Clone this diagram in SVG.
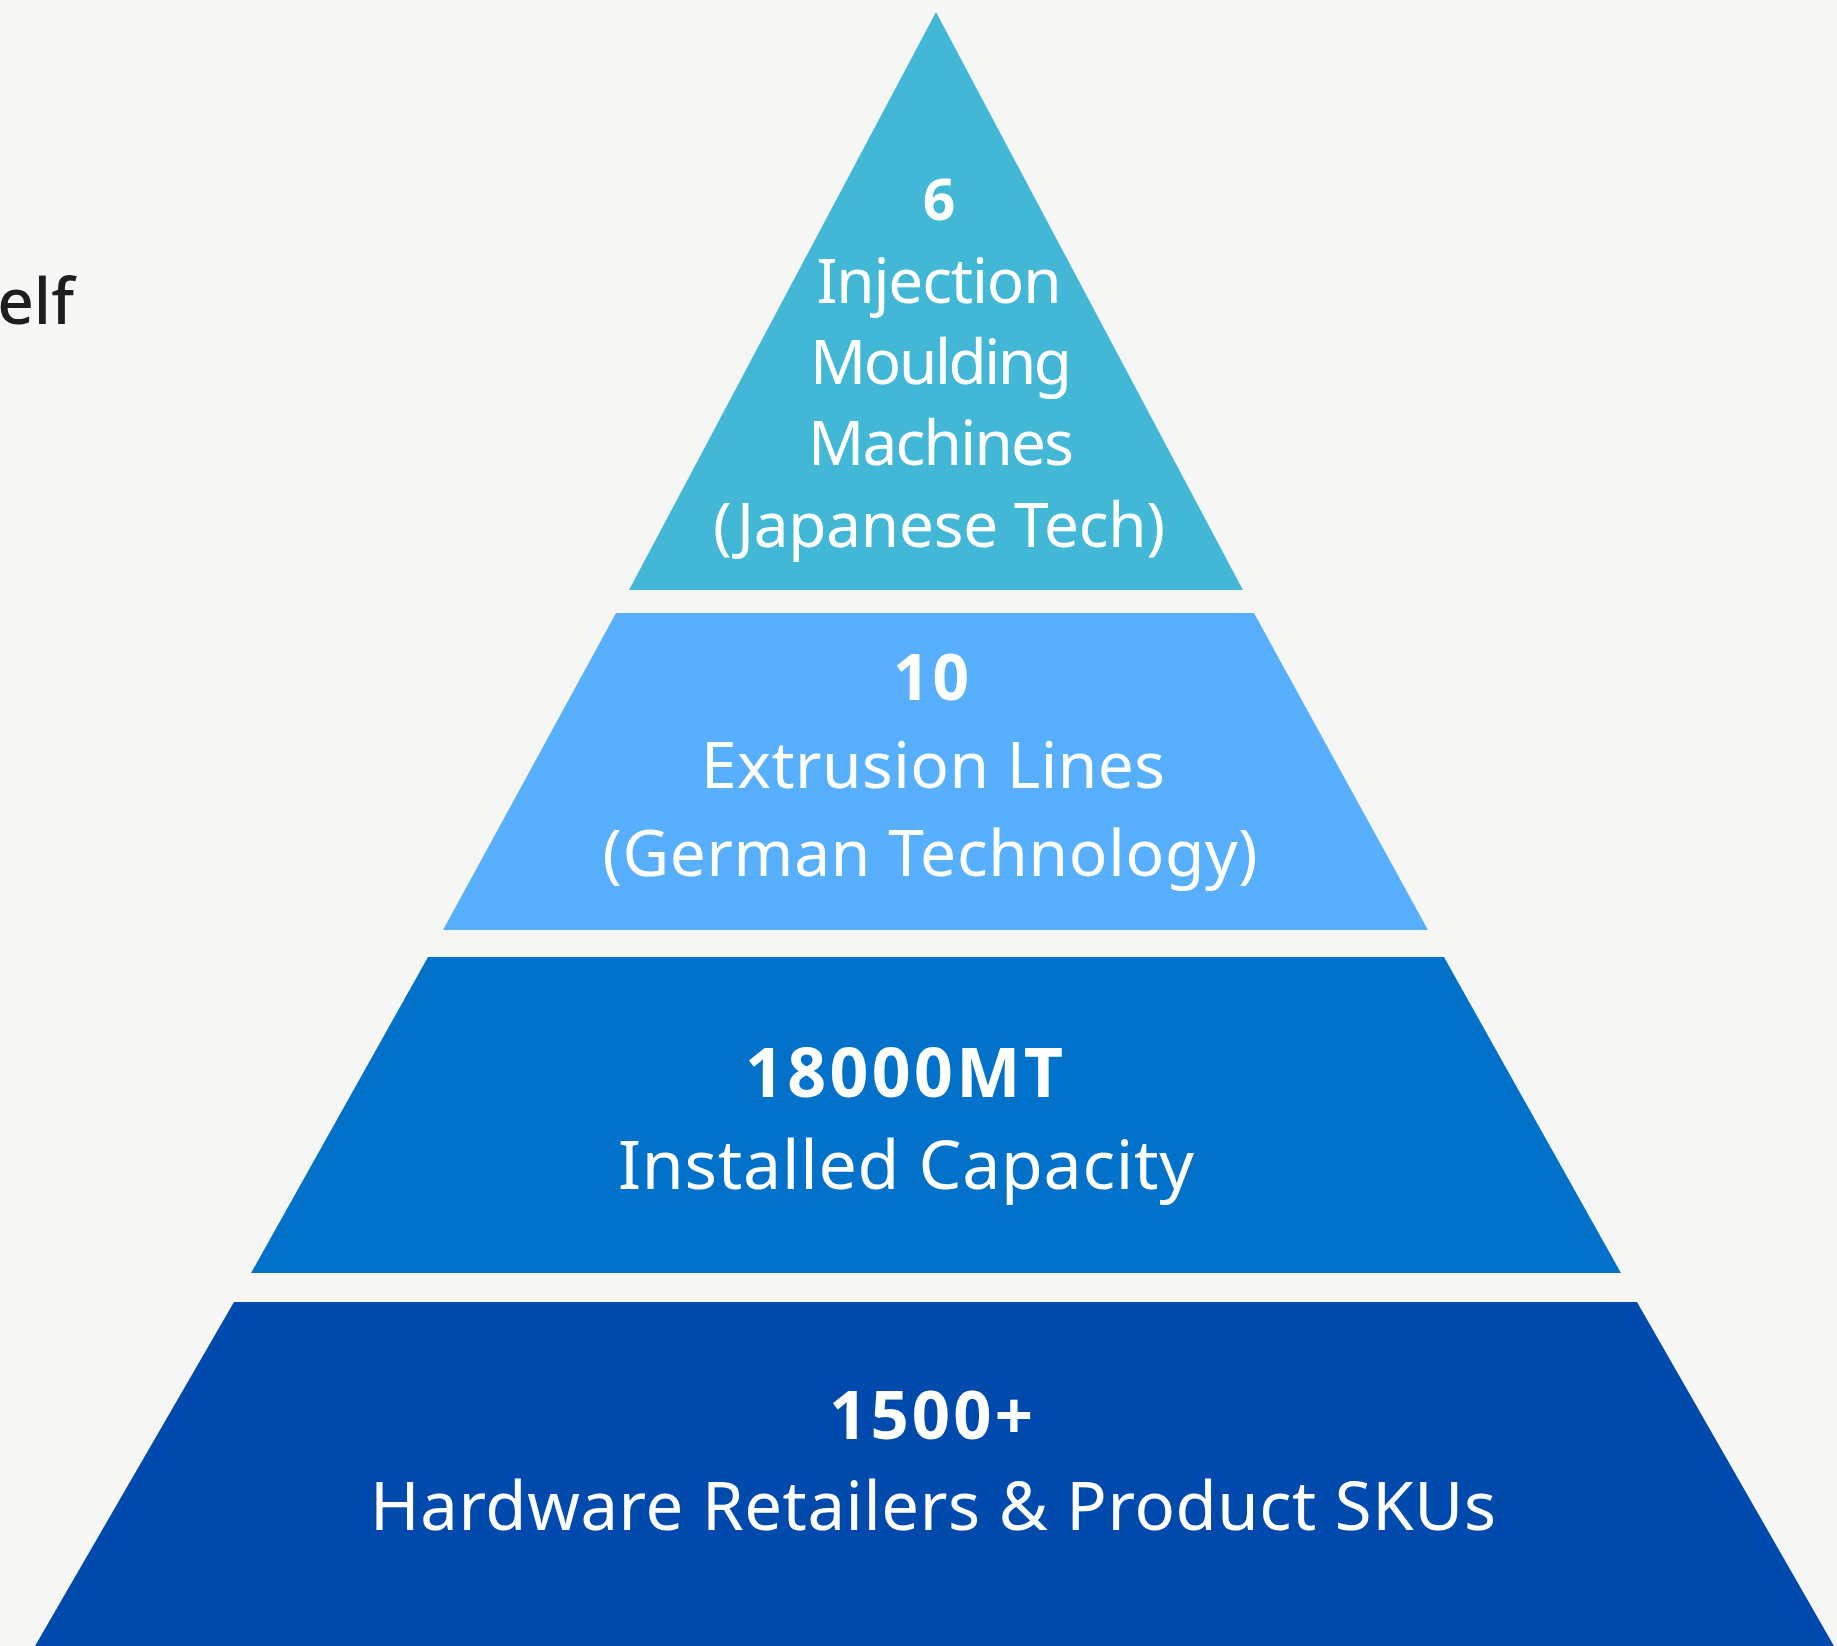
<svg xmlns="http://www.w3.org/2000/svg" width="1837" height="1646" viewBox="0 0 1837 1646">
  <style>
    .lbl { font-family: "Noto Sans", "Open Sans", "Liberation Sans", sans-serif; fill: #ffffff; text-anchor: middle; }
    .num { font-weight: 700; }
    .side { font-family: "Noto Sans", "Liberation Sans", sans-serif; fill: #1e1e1e; font-weight: 500; }
  </style>
  <rect id="background" x="0" y="0" width="1837" height="1646" fill="#f6f6f5"/>
  <text class="side" x="74" y="324" text-anchor="end" font-size="64">elf</text>
  <g id="connectors"/>
  <g id="tier1">
    <polygon points="936,12 1243,590 629,590" fill="#43B7D6"/>
    <text class="lbl num" x="939" y="220" font-size="57">6</text>
    <text class="lbl" x="939" y="303" font-size="62" textLength="245">Injection</text>
    <text class="lbl" x="941" y="384" font-size="62" textLength="262">Moulding</text>
    <text class="lbl" x="941" y="465" font-size="62" textLength="266">Machines</text>
    <text class="lbl" x="939" y="547" font-size="62" textLength="452">(Japanese Tech)</text>
  </g>
  <g id="tier2">
    <polygon points="616,613 1254,613 1428,930 443,930" fill="#58AFFE"/>
    <text class="lbl num" x="931" y="700" font-size="64" textLength="76">10</text>
    <text class="lbl" x="933" y="788" font-size="64" textLength="464">Extrusion Lines</text>
    <text class="lbl" x="930" y="876" font-size="64" textLength="655">(German Technology)</text>
  </g>
  <g id="tier3">
    <polygon points="428,957 1444,957 1621,1273 251,1273" fill="#0171C9"/>
    <text class="lbl num" x="904" y="1097" font-size="68" textLength="318">18000MT</text>
    <text class="lbl" x="906" y="1189" font-size="68" textLength="576">Installed Capacity</text>
  </g>
  <g id="tier4">
    <polygon points="234,1302 1637,1302 1834,1646 35,1646" fill="#004AAD"/>
    <text class="lbl num" x="931" y="1439" font-size="67" textLength="204">1500+</text>
    <text class="lbl" x="933" y="1530" font-size="67" textLength="1126">Hardware Retailers &amp; Product SKUs</text>
  </g>
</svg>
